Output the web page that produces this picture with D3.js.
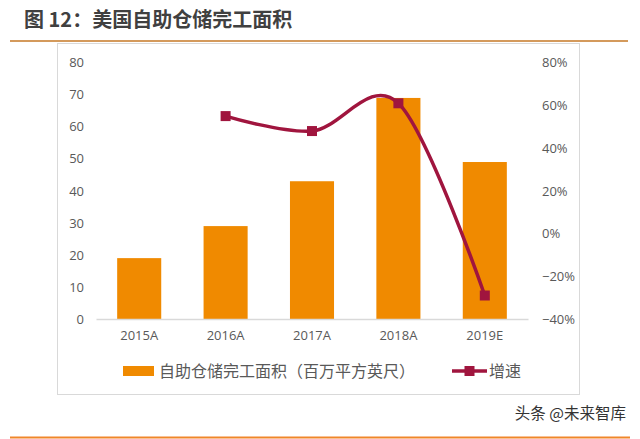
<!DOCTYPE html>
<html lang="zh">
<head>
    <meta charset="utf-8">
    <script src="https://d3js.org/d3.v7.min.js"></script>
    <style>
        body { margin: 0; background: #fff; }
        svg { display: block; font-family: "Noto Sans CJK SC", "Noto Sans", sans-serif; }
    </style>
</head>
<body>
<svg id="vis" width="640" height="439"></svg>

<script>
    // data
    const years = ["2015A", "2016A", "2017A", "2018A", "2019E"];
    const area = [19, 29, 43, 69, 49];              // 百万平方英尺
    const growth = [null, 0.55, 0.48, 0.61, -0.29];  // 增速
    const leftTicks = [0, 10, 20, 30, 40, 50, 60, 70, 80];
    const rightTicks = [-0.4, -0.2, 0, 0.2, 0.4, 0.6, 0.8];

    const barColor = "#F08A00";
    const lineColor = "#A0153E";
    const textColor = "#595959";

    const svg = d3.select("#vis");

    // title + rules
    svg.append("text")
        .attr("x", 24).attr("y", 27)
        .attr("font-size", 20).attr("font-weight", "bold")
        .attr("fill", "#404040")
        .text("图 12：美国自助仓储完工面积");

    svg.append("line")
        .attr("x1", 10).attr("x2", 628).attr("y1", 41).attr("y2", 41)
        .attr("stroke", "#D49A5C").attr("stroke-width", 2);

    svg.append("line")
        .attr("x1", 10).attr("x2", 630).attr("y1", 437.5).attr("y2", 437.5)
        .attr("stroke", "#F0862A").attr("stroke-width", 2);

    // chart frame
    svg.append("rect")
        .attr("x", 57.5).attr("y", 43.5).attr("width", 522).attr("height", 351)
        .attr("fill", "none").attr("stroke", "#D9D9D9");

    const x = d3.scaleBand().domain(years).range([96, 528]).paddingInner(0.49).paddingOuter(0.245);
    const y = d3.scaleLinear().domain([0, 80]).range([319, 62.7]);
    const y2 = d3.scaleLinear().domain([-0.4, 0.8]).range([319, 62.7]);

    // bars
    svg.append("g").selectAll("rect")
        .data(years)
        .join("rect")
        .attr("x", d => x(d))
        .attr("width", x.bandwidth())
        .attr("y", (d, i) => y(area[i]))
        .attr("height", (d, i) => y(0) - y(area[i]))
        .attr("fill", barColor);

    // x axis
    const xAxis = svg.append("g")
        .attr("transform", "translate(0," + y(0) + ")")
        .call(d3.axisBottom(x).tickSize(0).tickPadding(12));
    xAxis.select(".domain").attr("stroke", "#D9D9D9").attr("stroke-width", 1.5);
    xAxis.selectAll("text").attr("font-size", 13).attr("fill", textColor)
        .attr("font-family", "'Open Sans', sans-serif");

    // left axis
    const yAxis = svg.append("g")
        .attr("transform", "translate(84,0)")
        .call(d3.axisLeft(y).tickValues(leftTicks).tickSize(0).tickPadding(0));
    yAxis.select(".domain").remove();
    yAxis.selectAll("text").attr("font-size", 13).attr("fill", textColor)
        .attr("font-family", "'Open Sans', sans-serif");

    // right axis
    const y2Axis = svg.append("g")
        .attr("transform", "translate(542,0)")
        .call(d3.axisRight(y2).tickValues(rightTicks).tickSize(0).tickPadding(0).tickFormat(d3.format(".0%")));
    y2Axis.select(".domain").remove();
    y2Axis.selectAll("text").attr("font-size", 13).attr("fill", textColor)
        .attr("font-family", "'Open Sans', sans-serif");

    // growth line
    const pts = years.map((d, i) => ({year: d, v: growth[i]})).filter(d => d.v !== null);
    const line = d3.line()
        .x(d => x(d.year) + x.bandwidth() / 2)
        .y(d => y2(d.v))
        .curve(d3.curveCardinal.tension(0));

    svg.append("path")
        .datum(pts)
        .attr("d", line)
        .attr("fill", "none")
        .attr("stroke", lineColor)
        .attr("stroke-width", 3.5);

    svg.append("g").selectAll("rect")
        .data(pts)
        .join("rect")
        .attr("x", d => x(d.year) + x.bandwidth() / 2 - 5)
        .attr("y", d => y2(d.v) - 5)
        .attr("width", 10).attr("height", 10)
        .attr("fill", lineColor);

    // legend
    const lg = svg.append("g");
    lg.append("rect")
        .attr("x", 123).attr("y", 366).attr("width", 31).attr("height", 10)
        .attr("fill", barColor);
    lg.append("text")
        .attr("x", 159).attr("y", 377)
        .attr("font-size", 16).attr("fill", textColor)
        .text("自助仓储完工面积（百万平方英尺）");

    lg.append("line")
        .attr("x1", 452).attr("x2", 487).attr("y1", 371).attr("y2", 371)
        .attr("stroke", lineColor).attr("stroke-width", 3.5);
    lg.append("rect")
        .attr("x", 464.5).attr("y", 366).attr("width", 10).attr("height", 10)
        .attr("fill", lineColor);
    lg.append("text")
        .attr("x", 489).attr("y", 377)
        .attr("font-size", 16).attr("fill", textColor)
        .text("增速");

    // watermark
    svg.append("text")
        .attr("x", 626).attr("y", 419)
        .attr("text-anchor", "end")
        .attr("font-size", 15.5).attr("fill", "#333")
        .text("头条 @未来智库");
</script>
</body>
</html>
